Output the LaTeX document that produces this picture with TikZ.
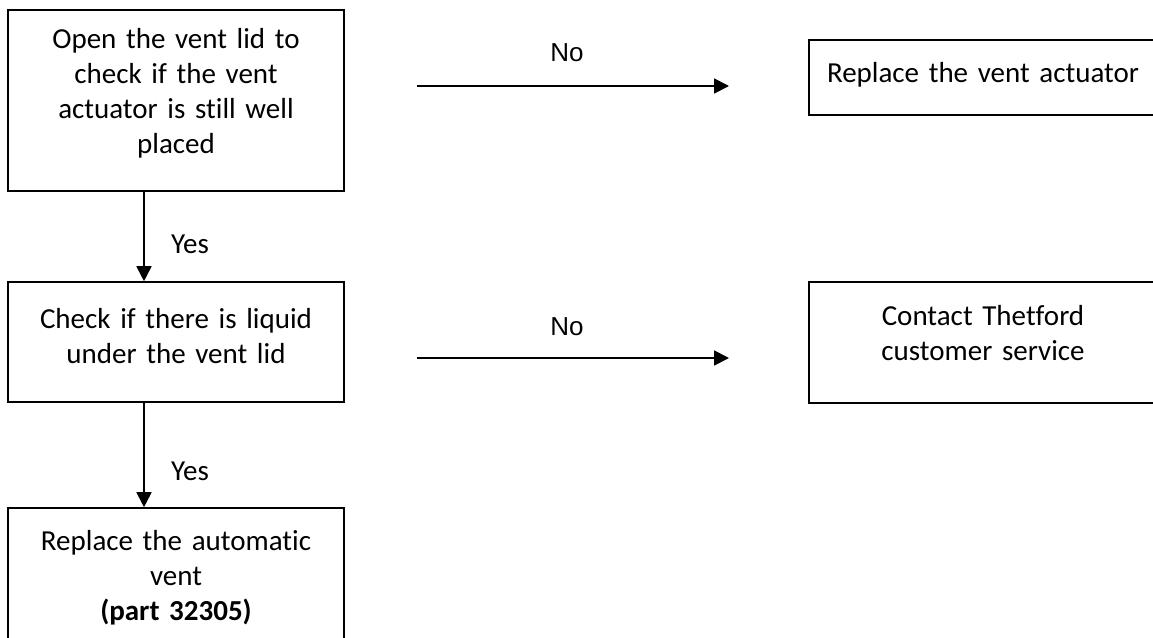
\documentclass[tikz,border=0pt]{standalone}
\usepackage{fontspec}
\setmainfont{Carlito}[Ligatures={NoCommon}, WordSpace=0.85]
\newfontfamily\nofont{Liberation Sans}
\usetikzlibrary{arrows.meta}
\begin{document}
\begin{tikzpicture}[x=1pt,y=-1pt,
  box/.style={draw,line width=1.6pt,inner sep=0pt},
  txt/.style={font=\fontsize{29}{35}\selectfont, align=center, text width=#1, inner sep=0pt, anchor=base},
  lab/.style={font=\fontsize{29}{35}\selectfont, anchor=base, inner sep=0pt},
  nolab/.style={font=\nofont\fontsize{26}{30}\selectfont, inner sep=0pt},
  arr/.style={line width=1.8pt, -{Triangle[length=15pt,width=15pt]}}]
\useasboundingbox (0,0) rectangle (1153,637);
\begin{scope}
\clip (0,0) rectangle (1153,637);
\node[box, minimum width=336pt, minimum height=181pt] (b1) at (176,100.5) {};
\node[box, minimum width=336pt, minimum height=120pt] (b2) at (176,342) {};
\node[box, minimum width=336pt, minimum height=152pt] (b3) at (176,584) {};
\node[box, minimum width=348pt, minimum height=75pt] (b4) at (983,77.5) {};
\node[box, minimum width=348pt, minimum height=121pt] (b5) at (983,342.5) {};
\end{scope}
\node[txt=330pt] (t1) at (176,48) {Open the vent lid to\\check if the vent\\actuator is still well\\placed};
\node[txt=330pt] (t2) at (176,328) {Check if there is liquid\\under the vent lid};
\node[txt=330pt] (t3) at (176,550) {Replace the automatic\\vent\\\textbf{(part 32305)}};
\node[txt=340pt] (t4) at (983,82) {Replace the vent actuator};
\node[txt=340pt] (t5) at (983,325) {Contact Thetford\\customer service};
\coordinate (ax) at (144,0);
\draw[arr] (b1.south -| ax) -- (b2.north -| ax);
\draw[arr] (b2.south -| ax) -- (b3.north -| ax);
\node[lab] (y1) at (190,253) {Yes};
\node[lab] (y2) at (190,480) {Yes};
\coordinate (n1s) at (417,86);
\coordinate (n1e) at (729,86);
\coordinate (n2s) at (417,358);
\coordinate (n2e) at (729,358);
\draw[arr] (n1s) -- (n1e);
\draw[arr] (n2s) -- (n2e);
\node[nolab] (no1) at (567,53) {No};
\node[nolab] (no2) at (567,327) {No};
\end{tikzpicture}
\end{document}
